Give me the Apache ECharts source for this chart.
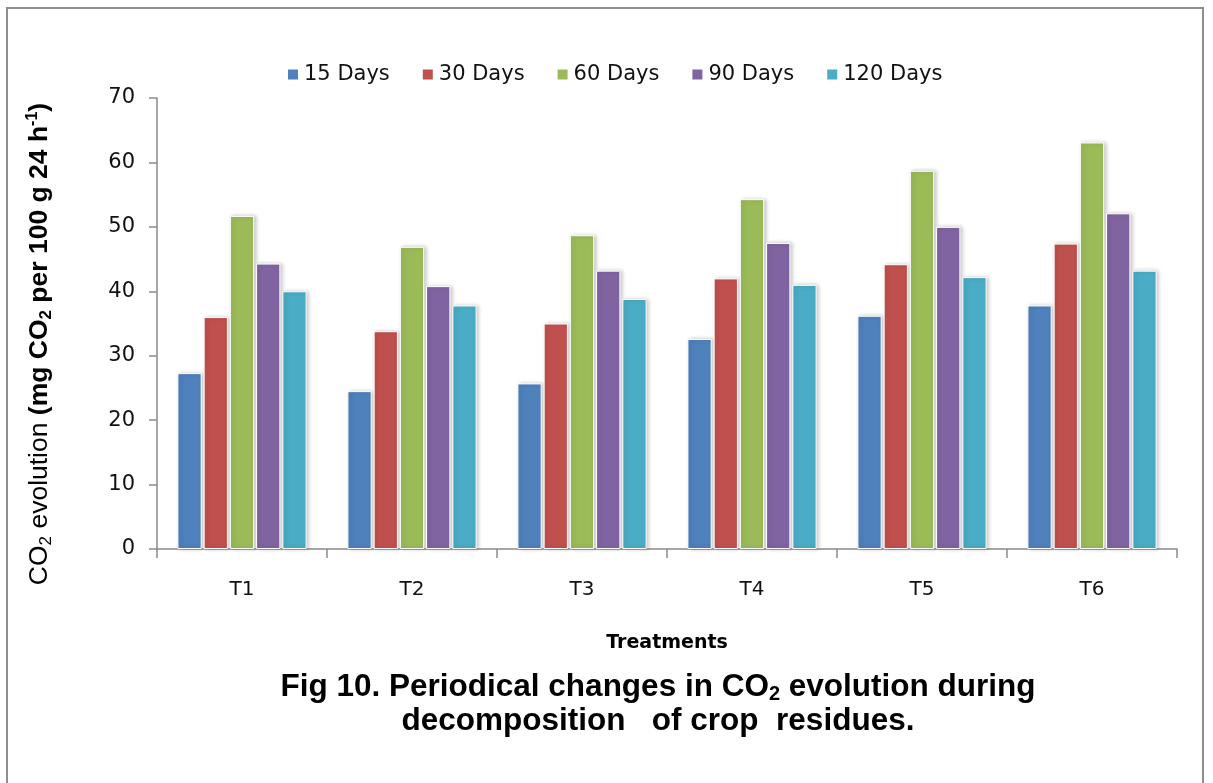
<!DOCTYPE html>
<html>
<head>
<meta charset="utf-8">
<script src="https://cdn.jsdelivr.net/npm/echarts@6/dist/echarts.min.js"></script>
<style>
  html, body { margin: 0; padding: 0; background: #fff; }
  #frame { position: absolute; left: 6px; top: 7px; width: 1198px; height: 790px; border: 2px solid #8e8e8e; box-sizing: border-box; }
  #chart { position: absolute; left: 0; top: 0; width: 1213px; height: 783px; }
</style>
</head>
<body>
<div id="frame"></div>
<div id="chart"></div>
<script>
// Treatments on the x axis
const treatments = ['T1', 'T2', 'T3', 'T4', 'T5', 'T6'];
// Sampling periods (one series each)
const periods = ['15 Days', '30 Days', '60 Days', '90 Days', '120 Days'];
// CO2 evolution (mg CO2 per 100 g 24 h-1) per period, T1..T6
const days15  = [27.3, 24.5, 25.7, 32.6, 36.2, 37.8];
const days30  = [36.0, 33.8, 35.0, 42.0, 44.2, 47.4];
const days60  = [51.7, 46.9, 48.7, 54.3, 58.7, 63.1];
const days90  = [44.3, 40.8, 43.2, 47.5, 50.0, 52.1];
const days120 = [40.0, 37.8, 38.8, 41.0, 42.2, 43.2];
const seriesValues = [days15, days30, days60, days90, days120];
const colors = ['#4F81BD', '#C0504D', '#9BBB59', '#8064A2', '#4BACC6'];
// Value axis ticks
const yTicks = [0, 10, 20, 30, 40, 50, 60, 70];

const chart = echarts.init(document.getElementById('chart'));
const baseFont = '"DejaVu Sans", sans-serif';
const arial = '"Liberation Sans", Arial, sans-serif';

chart.setOption({
  animation: false,
  color: colors,
  legend: {
    left: 281, top: 59,
    icon: 'rect', itemWidth: 12, itemHeight: 12, itemGap: 31,
    textStyle: { fontFamily: baseFont, fontSize: 21, color: '#111' },
    data: periods
  },
  title: {
    left: 653, top: 665, textAlign: 'center',
    text: '{t|Fig 10. Periodical changes in CO}{s|2}{t| evolution during}\n{t|decomposition   of crop  residues.}',
    textStyle: {
      rich: {
        t: { fontFamily: arial, fontWeight: 'bold', fontSize: 31.5, color: '#000', lineHeight: 34 },
        s: { fontFamily: arial, fontWeight: 'bold', fontSize: 20, color: '#000', lineHeight: 24, verticalAlign: 'bottom' }
      }
    }
  },
  // rotated value-axis title with chemical subscripts and unit exponent
  graphic: [{
    type: 'text',
    x: 40, y: 344,
    rotation: Math.PI / 2,
    style: {
      text: '{n|CO}{s|2}{n| evolution }{b|(mg CO}{bs|2}{b| per 100 g 24 h}{bp|-1}{b|)}',
      align: 'center',
      verticalAlign: 'middle',
      rich: {
        n: { fontFamily: arial, fontSize: 26.5, fill: '#000', lineHeight: 30 },
        s: { fontFamily: arial, fontSize: 17, fill: '#000', lineHeight: 18, verticalAlign: 'bottom' },
        b: { fontFamily: arial, fontWeight: 'bold', fontSize: 26.5, fill: '#000', lineHeight: 30 },
        bs: { fontFamily: arial, fontWeight: 'bold', fontSize: 17, fill: '#000', lineHeight: 18, verticalAlign: 'bottom' },
        bp: { fontFamily: arial, fontWeight: 'bold', fontSize: 16, fill: '#000', lineHeight: 18, verticalAlign: 'top' }
      }
    }
  }],
  grid: { left: 157, right: 36, top: 98, bottom: 234, containLabel: false },
  xAxis: {
    type: 'category',
    data: treatments,
    boundaryGap: true,
    name: 'Treatments',
    nameLocation: 'middle',
    nameGap: 85,
    nameTextStyle: { fontFamily: baseFont, fontWeight: 'bold', fontSize: 19, color: '#000' },
    axisLine: { lineStyle: { color: '#8a8a8a', width: 1.5 } },
    axisTick: { show: true, length: 9, alignWithLabel: false, lineStyle: { color: '#8a8a8a', width: 1.5 } },
    axisLabel: { fontFamily: baseFont, fontSize: 20, color: '#111', margin: 31 }
  },
  yAxis: {
    type: 'value',
    min: yTicks[0], max: yTicks[yTicks.length - 1], interval: 10,
    splitLine: { show: false },
    axisLine: { show: true, lineStyle: { color: '#8a8a8a', width: 1.5 } },
    axisTick: { show: true, length: 8, lineStyle: { color: '#8a8a8a', width: 1.5 } },
    axisLabel: { fontFamily: baseFont, fontSize: 21, color: '#111', margin: 22 }
  },
  series: periods.map((p, i) => ({
    name: p,
    type: 'bar',
    data: seriesValues[i],
    barGap: '8%',
    barCategoryGap: '24%',
    itemStyle: {
      color: colors[i],
      borderColor: '#ffffff',
      borderWidth: 1,
      shadowColor: 'rgba(0,0,0,0.22)',
      shadowBlur: 4,
      shadowOffsetX: 2,
      shadowOffsetY: 0
    }
  }))
});
</script>
</body>
</html>
